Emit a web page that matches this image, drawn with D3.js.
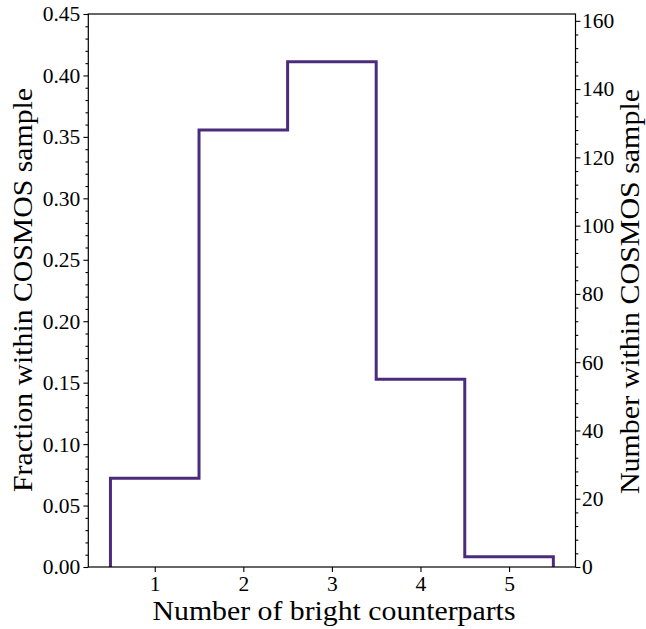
<!DOCTYPE html>
<html><head><meta charset="utf-8">
<script src="https://cdn.jsdelivr.net/npm/d3@7"></script>
<style>
html,body{margin:0;padding:0;background:#fff;}
text{font-family:"Liberation Serif","DejaVu Serif",serif;fill:#000;}
</style></head>
<body>
<svg id="c" width="646" height="629"></svg>
<script>
const categories = [1, 2, 3, 4, 5];
const counts = [26, 128, 148, 55, 3];
const total = 360;
const fractions = counts.map(c => c / total);
const leftTicks = [0, 0.05, 0.10, 0.15, 0.20, 0.25, 0.30, 0.35, 0.40, 0.45];
const rightTicks = [0, 20, 40, 60, 80, 100, 120, 140, 160];
const xTicks = [1, 2, 3, 4, 5];

const svg = d3.select("#c");
const L = 88.3, R = 575.5, T = 14, B = 567;
const x = d3.scaleLinear().domain([0.25, 5.75]).range([L, R]);
const y = d3.scaleLinear().domain([0, 0.45]).range([B, T]);
const y2 = d3.scaleLinear().domain([0, 0.45 * total]).range([B, T]);

// step path
const pts = [[categories[0] - 0.5, 0]];
categories.forEach((c, i) => {
  pts.push([c - 0.5, fractions[i]]);
  pts.push([c + 0.5, fractions[i]]);
});
pts.push([categories[categories.length - 1] + 0.5, 0]);
svg.append("path")
  .attr("d", d3.line().x(d => x(d[0])).y(d => y(d[1]))(pts))
  .attr("fill", "none").attr("stroke", "#4b2c7c").attr("stroke-width", 3)
  .attr("stroke-linejoin", "miter");

// axes
const fmt2 = d3.format(".2f");
const gl = svg.append("g").attr("transform", `translate(${L},0)`)
  .call(d3.axisLeft(y).tickValues(leftTicks).tickFormat(fmt2).tickSize(4.9));
const glm = svg.append("g").attr("transform", `translate(${L},0)`)
  .call(d3.axisLeft(y).tickValues(d3.range(0, 46).map(i => i / 100).filter(v => Math.round(v * 100) % 5 !== 0)).tickSize(2.8).tickFormat(""));
const gr = svg.append("g").attr("transform", `translate(${R},0)`)
  .call(d3.axisRight(y2).tickValues(rightTicks).tickSize(4.9));
const grm = svg.append("g").attr("transform", `translate(${R},0)`)
  .call(d3.axisRight(y2).tickValues(d3.range(0, 162, 4).filter(v => v % 20 !== 0)).tickSize(2.8).tickFormat(""));
const gb = svg.append("g").attr("transform", `translate(0,${B})`)
  .call(d3.axisBottom(x).tickValues(xTicks).tickFormat(d3.format("d")).tickSize(4.9));
[gl, glm, gr, grm, gb].forEach(g => {
  g.select(".domain").remove();
  g.selectAll("line").attr("stroke", "#000").attr("stroke-width", 1.1);
  g.selectAll("text").attr("font-size", 21.5).style("font-family", '"Liberation Serif",serif');
});
gl.selectAll("text").attr("x", -8);
gr.selectAll("text").attr("x", 6.5);
gb.selectAll("text").attr("y", 24).attr("dy", 0);

// frame
svg.append("rect").attr("x", L).attr("y", T).attr("width", R - L).attr("height", B - T)
  .attr("fill", "none").attr("stroke", "#000").attr("stroke-width", 1.2);

// labels
svg.append("text").attr("x", 334).attr("y", 620).attr("text-anchor", "middle")
  .attr("font-size", 27.5).attr("textLength", 363).attr("lengthAdjust", "spacingAndGlyphs")
  .text("Number of bright counterparts");
svg.append("text").attr("transform", `translate(32,290) rotate(-90)`)
  .attr("text-anchor", "middle").attr("font-size", 28).attr("textLength", 404).attr("lengthAdjust", "spacingAndGlyphs")
  .text("Fraction within COSMOS sample");
svg.append("text").attr("transform", `translate(638.5,291.5) rotate(-90)`)
  .attr("text-anchor", "middle").attr("font-size", 27).attr("textLength", 405).attr("lengthAdjust", "spacingAndGlyphs")
  .text("Number within COSMOS sample");
</script>
</body></html>
